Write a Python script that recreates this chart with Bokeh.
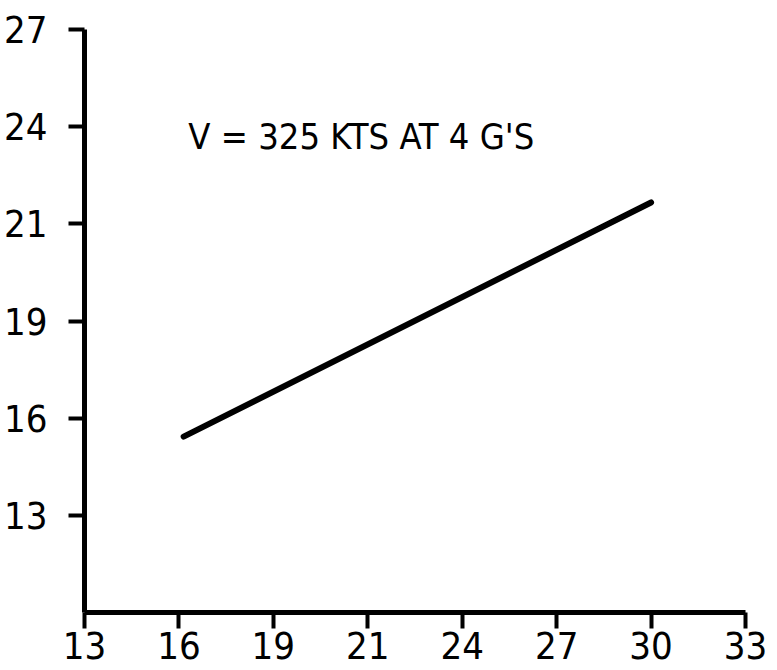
import numpy as np
from bokeh.plotting import figure
from bokeh.models import Range1d, FixedTicker, Label
from bokeh.embed import file_html
from bokeh.resources import INLINE

# tick labels (axes are drawn with evenly spaced ticks, as in the original)
x_ticks = [13, 16, 19, 21, 24, 27, 30, 33]
y_ticks = [13, 16, 19, 21, 24, 27]

# the single line
line_x = [16.15, 30.0]
line_y = [15.43, 21.66]

annotation = "V = 325 KTS AT 4 G'S"

FONT = "DejaVu Sans Condensed"

x_pos = list(range(len(x_ticks)))          # 0..7
y_pos = list(range(1, len(y_ticks) + 1))   # 1..6, axis base at 0

px = np.interp(line_x, x_ticks, x_pos)
py = np.interp(line_y, y_ticks, y_pos)

p = figure(width=775, height=668, output_backend="svg", toolbar_location=None,
           x_range=Range1d(0, 7), y_range=Range1d(0, 6),
           min_border_left=84, min_border_right=30, min_border_top=29, min_border_bottom=56)
p.outline_line_color = None
p.xgrid.visible = False
p.ygrid.visible = False
p.background_fill_color = "white"

p.line(px, py, line_width=6, color="black", line_cap="round")

for ax in (p.xaxis[0], p.yaxis[0]):
    ax.axis_line_width = 5
    ax.axis_line_color = "black"
    ax.major_tick_line_width = 4
    ax.major_tick_line_color = "black"
    ax.major_tick_in = 0
    ax.major_tick_out = 16
    ax.minor_tick_line_color = None
    ax.major_label_text_font = FONT
    ax.major_label_text_font_size = "38px"
    ax.major_label_text_color = "black"

p.xaxis.ticker = FixedTicker(ticks=x_pos)
p.xaxis.major_label_overrides = {i: str(t) for i, t in zip(x_pos, x_ticks)}
p.xaxis.major_label_standoff = 3
p.yaxis.ticker = FixedTicker(ticks=y_pos)
p.yaxis.major_label_overrides = {i: str(t) for i, t in zip(y_pos, y_ticks)}
p.yaxis.major_label_standoff = 21

p.add_layout(Label(x=1.1, y=4.9, text=annotation, text_font=FONT,
                   text_font_size="36px", text_color="black",
                   text_baseline="middle", text_align="left"))

open("out.html", "w").write(file_html(p, INLINE))
